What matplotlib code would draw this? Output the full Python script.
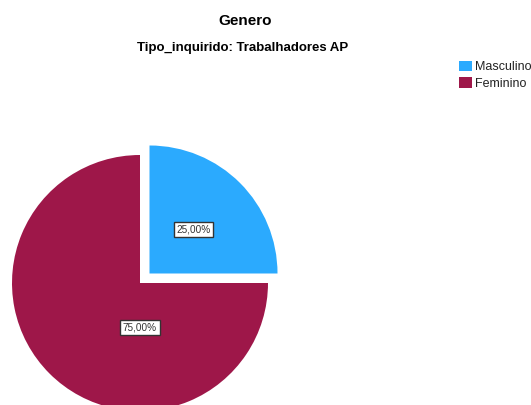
import matplotlib.pyplot as plt
from matplotlib.patches import Patch

plt.rcParams['font.family'] = ['Liberation Sans', 'DejaVu Sans']

# dados
categorias = ['Masculino', 'Feminino']
percentagens = [25.0, 75.0]
cores = ['#2BAAFE', '#9E1749']

titulo = 'Genero'
subtitulo = 'Tipo_inquirido: Trabalhadores AP'

W, H = 531, 405
fig = plt.figure(figsize=(W / 100, H / 100), dpi=100)
ax = fig.add_axes([0, 0, 1, 1])

# centro e raio em pixels
cx, cy, r = 140, H - 283, 128

# o explode do pie vem em unidades de dados, nao em fracao do raio
wedges, textos, pct = ax.pie(
    percentagens, colors=cores, startangle=90, counterclock=False,
    explode=[0.105 * r, 0], center=(cx, cy), radius=r,
    autopct=lambda p: f'{p:.2f}%'.replace('.', ','), pctdistance=0.49,
    wedgeprops=dict(edgecolor='none'),
    textprops=dict(fontsize=7.2, color='#333333'))

for t in pct:
    t.set_bbox(dict(boxstyle='square,pad=0.25', facecolor='white',
                    edgecolor='#333333', linewidth=1))
pct[1].set_position((cx, cy - 0.35 * r))

ax.set_xlim(0, W)
ax.set_ylim(0, H)
ax.set_aspect('equal')
ax.axis('off')

fig.text(245 / W, 1 - 21 / H, titulo, ha='center', va='center',
         fontsize=11, fontweight='bold')
fig.text(243 / W, 1 - 48 / H, subtitulo, ha='center', va='center',
         fontsize=9.5, fontweight='bold')

handles = [Patch(facecolor=c, edgecolor='none') for c in cores]
fig.legend(handles, categorias, loc='upper left',
           bbox_to_anchor=(459 / W, 1 - 61 / H), frameon=False,
           fontsize=9, handlelength=1.05, handleheight=0.9,
           handletextpad=0.25, labelspacing=0.3, borderpad=0,
           borderaxespad=0, labelcolor='#222222')

fig.savefig('out.png', dpi=100)
